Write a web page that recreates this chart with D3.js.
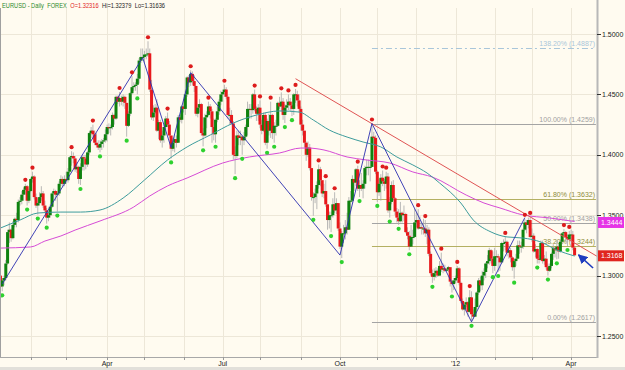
<!doctype HTML>
<html>
<head>
    <style>
        body { margin: 0; background: #fffbf0; }
        svg { display: block; font-family: "Liberation Sans", Arial, sans-serif; }
    </style>
    <script src="https://d3js.org/d3.v7.min.js"></script>
</head>
<body>
<div id="chart"></div>
<script>

    // daily EURUSD bars, one row per trading day: [high, low, close]
    // (forex has no gaps, so each bar opens at the previous close)
    var firstOpen = 1.3380;
    var jan11 = [[1.3430,1.3300,1.3360],[1.3400,1.3280,1.3300],[1.3310,1.3130,1.3150],[1.3160,1.2990,1.3000],[1.3030,1.2870,1.2910],
        [1.2980,1.2870,1.2960],[1.3000,1.2920,1.2980],[1.3130,1.2960,1.3100],[1.3380,1.3090,1.3360],[1.3440,1.3270,1.3380],
        [1.3390,1.3280,1.3310],[1.3450,1.3300,1.3420],[1.3480,1.3400,1.3470],[1.3520,1.3400,1.3460],[1.3630,1.3440,1.3610],
        [1.3650,1.3580,1.3620],[1.3700,1.3590,1.3670],[1.3730,1.3620,1.3710],[1.3760,1.3670,1.3740],[1.3750,1.3580,1.3620],
        [1.3720,1.3600,1.3700]];
    var feb11 = [[1.3810,1.3690,1.3800],[1.3860,1.3770,1.3820],[1.3830,1.3630,1.3650],[1.3680,1.3560,1.3580],
        [1.3640,1.3505,1.3600],[1.3690,1.3580,1.3650],[1.3740,1.3620,1.3680],[1.3700,1.3560,1.3580],[1.3620,1.3520,1.3540],
        [1.3560,1.3430,1.3480],[1.3530,1.3450,1.3500],[1.3590,1.3480,1.3570],[1.3690,1.3560,1.3680],[1.3720,1.3620,1.3700],
        [1.3710,1.3620,1.3670],[1.3700,1.3530,1.3680],[1.3780,1.3660,1.3760],[1.3830,1.3740,1.3800],[1.3820,1.3730,1.3760],
        [1.3830,1.3740,1.3800]];
    var mar11 = [[1.3860,1.3760,1.3790],[1.3890,1.3770,1.3860],[1.3990,1.3850,1.3980],[1.4030,1.3910,1.3990],
        [1.4020,1.3930,1.3970],[1.3990,1.3860,1.3880],[1.3940,1.3850,1.3900],[1.3910,1.3760,1.3800],[1.3930,1.3750,1.3900],
        [1.4000,1.3870,1.3980],[1.4000,1.3870,1.3970],[1.4000,1.3880,1.3920],[1.4030,1.3900,1.4020],[1.4190,1.4000,1.4180],
        [1.4230,1.4140,1.4200],[1.4250,1.4130,1.4170],[1.4200,1.4080,1.4100],[1.4180,1.4060,1.4080],[1.4120,1.4040,1.4060],
        [1.4120,1.4020,1.4090],[1.4130,1.4040,1.4110],[1.4140,1.4060,1.4120],[1.4210,1.4100,1.4170]];
    var apr11 = [[1.4250,1.4110,1.4230],[1.4260,1.4180,1.4220],[1.4250,1.4160,1.4230],[1.4350,1.4210,1.4330],
        [1.4340,1.4250,1.4300],[1.4490,1.4290,1.4480],[1.4490,1.4420,1.4440],[1.4520,1.4400,1.4470],[1.4490,1.4410,1.4440],
        [1.4500,1.4400,1.4480],[1.4490,1.4380,1.4430],[1.4430,1.4150,1.4240],[1.4360,1.4230,1.4340],[1.4520,1.4320,1.4510],
        [1.4650,1.4500,1.4560],[1.4600,1.4530,1.4570],[1.4600,1.4530,1.4580],[1.4670,1.4500,1.4630],[1.4800,1.4590,1.4780],
        [1.4880,1.4760,1.4810],[1.4880,1.4780,1.4810]];
    var may11 = [[1.4860,1.4760,1.4830],[1.4880,1.4790,1.4830],[1.4940,1.4810,1.4840],[1.4880,1.4520,1.4540],
        [1.4620,1.4290,1.4310],[1.4410,1.4280,1.4350],[1.4420,1.4340,1.4390],[1.4460,1.4190,1.4200],[1.4290,1.4130,1.4270],
        [1.4290,1.4100,1.4120],[1.4200,1.4060,1.4160],[1.4250,1.4100,1.4230],[1.4320,1.4200,1.4300],[1.4350,1.4230,1.4250],
        [1.4280,1.4140,1.4160],[1.4120,1.3970,1.4050],[1.4140,1.4030,1.4100],[1.4170,1.4020,1.4130],[1.4160,1.4060,1.4100],
        [1.4330,1.4100,1.4310],[1.4330,1.4270,1.4290],[1.4410,1.4260,1.4400]];
    var jun11 = [[1.4460,1.4350,1.4380],[1.4530,1.4330,1.4500],[1.4650,1.4480,1.4640],[1.4660,1.4560,1.4600],
        [1.4700,1.4570,1.4670],[1.4690,1.4580,1.4610],[1.4660,1.4520,1.4570],[1.4570,1.4320,1.4340],[1.4420,1.4310,1.4390],
        [1.4460,1.4350,1.4420],[1.4430,1.4160,1.4180],[1.4220,1.4070,1.4160],[1.4340,1.4150,1.4310],[1.4360,1.4220,1.4330],
        [1.4440,1.4320,1.4400],[1.4420,1.4300,1.4360],[1.4380,1.4100,1.4230],[1.4300,1.4120,1.4170],[1.4300,1.4100,1.4290],
        [1.4400,1.4270,1.4360],[1.4460,1.4330,1.4440],[1.4530,1.4410,1.4500]];
    var jul11 = [[1.4540,1.4440,1.4520],[1.4580,1.4480,1.4540],[1.4560,1.4460,1.4480],[1.4490,1.4300,1.4330],
        [1.4390,1.4250,1.4330],[1.4370,1.4250,1.4260],[1.4280,1.3960,1.4000],[1.4070,1.3840,1.3990],[1.4200,1.3970,1.4160],
        [1.4200,1.4080,1.4140],[1.4200,1.4080,1.4150],[1.4160,1.4000,1.4120],[1.4190,1.4080,1.4150],[1.4250,1.4120,1.4230],
        [1.4440,1.4160,1.4380],[1.4420,1.4300,1.4380],[1.4420,1.4300,1.4370],[1.4510,1.4340,1.4500],[1.4540,1.4360,1.4380],
        [1.4400,1.4280,1.4340],[1.4420,1.4280,1.4390]];
    var aug11 = [[1.4450,1.4220,1.4250],[1.4290,1.4170,1.4200],[1.4350,1.4190,1.4330],[1.4350,1.4080,1.4100],
        [1.4300,1.4050,1.4280],[1.4340,1.4160,1.4200],[1.4440,1.4140,1.4330],[1.4340,1.4130,1.4180],[1.4270,1.4100,1.4240],
        [1.4290,1.4160,1.4240],[1.4440,1.4230,1.4430],[1.4480,1.4380,1.4400],[1.4517,1.4360,1.4440],[1.4470,1.4290,1.4330],
        [1.4420,1.4263,1.4390],[1.4460,1.4350,1.4410],[1.4500,1.4370,1.4440],[1.4470,1.4360,1.4410],[1.4440,1.4320,1.4380],
        [1.4510,1.4330,1.4500],[1.4545,1.4430,1.4500],[1.4530,1.4400,1.4450],[1.4500,1.4350,1.4380]];
    var sep11 = [[1.4400,1.4200,1.4250],[1.4290,1.4160,1.4200],[1.4190,1.4060,1.4100],[1.4110,1.3950,1.4000],
        [1.4110,1.3980,1.4060],[1.4090,1.3870,1.3890],[1.3890,1.3620,1.3650],[1.3690,1.3495,1.3650],[1.3720,1.3600,1.3680],
        [1.3780,1.3550,1.3750],[1.3920,1.3720,1.3880],[1.3900,1.3740,1.3790],[1.3760,1.3650,1.3680],[1.3760,1.3640,1.3700],
        [1.3790,1.3570,1.3590],[1.3590,1.3380,1.3460],[1.3530,1.3390,1.3500],[1.3530,1.3360,1.3500],[1.3640,1.3480,1.3590],
        [1.3690,1.3520,1.3540],[1.3640,1.3510,1.3600],[1.3600,1.3370,1.3390]];
    var oct11 = [[1.3440,1.3220,1.3240],[1.3370,1.3145,1.3350],[1.3420,1.3270,1.3350],[1.3460,1.3300,1.3400],
        [1.3520,1.3340,1.3380],[1.3650,1.3380,1.3620],[1.3700,1.3530,1.3620],[1.3830,1.3600,1.3800],[1.3800,1.3700,1.3770],
        [1.3890,1.3740,1.3880],[1.3910,1.3700,1.3720],[1.3790,1.3650,1.3750],[1.3850,1.3700,1.3720],[1.3790,1.3640,1.3760],
        [1.3910,1.3720,1.3890],[1.3960,1.3830,1.3900],[1.3960,1.3830,1.3900],[1.3950,1.3780,1.3900],[1.4259,1.3900,1.4150],
        [1.4190,1.4090,1.4140],[1.4160,1.3840,1.3860]];
    var nov11 = [[1.3870,1.3610,1.3690],[1.3800,1.3660,1.3760],[1.3840,1.3620,1.3810],[1.3870,1.3740,1.3780],
        [1.3800,1.3700,1.3760],[1.3860,1.3720,1.3820],[1.3850,1.3520,1.3540],[1.3650,1.3480,1.3610],[1.3780,1.3590,1.3750],
        [1.3790,1.3620,1.3640],[1.3650,1.3500,1.3530],[1.3560,1.3440,1.3480],[1.3550,1.3420,1.3450],[1.3610,1.3440,1.3520],
        [1.3530,1.3440,1.3500],[1.3580,1.3450,1.3510],[1.3520,1.3350,1.3360],[1.3400,1.3300,1.3330],[1.3370,1.3210,1.3240],
        [1.3420,1.3290,1.3320],[1.3380,1.3260,1.3320],[1.3550,1.3310,1.3440]];
    var dec11 = [[1.3520,1.3400,1.3460],[1.3550,1.3380,1.3390],[1.3490,1.3390,1.3400],[1.3430,1.3340,1.3390],
        [1.3470,1.3340,1.3390],[1.3460,1.3320,1.3350],[1.3420,1.3260,1.3380],[1.3400,1.3160,1.3180],[1.3200,1.3000,1.3020],
        [1.3050,1.2940,1.2990],[1.3060,1.2960,1.3020],[1.3070,1.2980,1.3040],[1.3060,1.2990,1.3000],[1.3120,1.3000,1.3080],
        [1.3190,1.3030,1.3050],[1.3100,1.3020,1.3060],[1.3090,1.3030,1.3040],[1.3060,1.3030,1.3050],[1.3080,1.3030,1.3070],
        [1.3060,1.2910,1.2950],[1.2960,1.2860,1.2930],[1.2980,1.2880,1.2960]];
    var jan12 = [[1.3000,1.2940,1.2980],[1.3080,1.2940,1.3060],[1.3070,1.2920,1.2940],[1.2950,1.2770,1.2790],
        [1.2810,1.2710,1.2720],[1.2780,1.2670,1.2760],[1.2820,1.2740,1.2780],[1.2790,1.2660,1.2700],[1.2880,1.2690,1.2820],
        [1.2870,1.2617,1.2680],[1.2720,1.2640,1.2660],[1.2810,1.2660,1.2740],[1.2870,1.2720,1.2860],[1.2980,1.2840,1.2960],
        [1.2990,1.2870,1.2920],[1.3040,1.2880,1.3000],[1.3060,1.2960,1.3030],[1.3110,1.2980,1.3100],[1.3170,1.3060,1.3120],
        [1.3230,1.3090,1.3210],[1.3220,1.3100,1.3140],[1.3200,1.3020,1.3080]];
    var feb12 = [[1.3230,1.3040,1.3160],[1.3210,1.3080,1.3160],[1.3180,1.3030,1.3150],[1.3150,1.3040,1.3110],
        [1.3280,1.3100,1.3270],[1.3300,1.3200,1.3270],[1.3320,1.3210,1.3280],[1.3290,1.3160,1.3190],[1.3260,1.3140,1.3210],
        [1.3230,1.3110,1.3150],[1.3160,1.3040,1.3070],[1.3140,1.2975,1.3120],[1.3180,1.3080,1.3140],[1.3290,1.3140,1.3250],
        [1.3290,1.3180,1.3240],[1.3280,1.3190,1.3240],[1.3390,1.3220,1.3380],[1.3470,1.3370,1.3440],[1.3460,1.3350,1.3420],
        [1.3480,1.3390,1.3460],[1.3486,1.3310,1.3320]];
    var mar12 = [[1.3390,1.3280,1.3330],[1.3350,1.3190,1.3200],[1.3260,1.3150,1.3220],[1.3230,1.3100,1.3140],
        [1.3170,1.3100,1.3130],[1.3290,1.3120,1.3270],[1.3290,1.3100,1.3120],[1.3170,1.3090,1.3140],[1.3200,1.3050,1.3070],
        [1.3100,1.3000,1.3040],[1.3100,1.3030,1.3080],[1.3190,1.3060,1.3180],[1.3260,1.3130,1.3230],[1.3230,1.3150,1.3210],
        [1.3290,1.3135,1.3240],[1.3260,1.3140,1.3200],[1.3300,1.3190,1.3280],[1.3360,1.3260,1.3350],[1.3385,1.3320,1.3360],
        [1.3370,1.3280,1.3320],[1.3340,1.3245,1.3300],[1.3370,1.3280,1.3340]];
    var apr12 = [[1.3380,1.3290,1.3340],[1.3370,1.3210,1.32316],[1.32379,1.31636,1.3168]];

    // swing markers (trading-day index of the bar)
    var swingHighs = [18,22,44,56,71,78,87,98,111,121,130,147,150,156,162,166,170,183,187,192,205,213,219,221,239,243,252,261,268,288,299,302,321,324];
    var swingLows = [5,19,25,30,36,49,60,75,81,100,118,125,136,140,154,158,164,168,180,190,196,206,216,223,228,234,247,258,269,281,284,293,306,312,317,323];

    // moving averages: [day index, price]
    var tealMA = [[4,1.3394],[15,1.3460],[25,1.3518],[38,1.3526],[49,1.3526],[60,1.3543],[73,1.3642],[85,1.3791],
        [98,1.3957],[109,1.4065],[122,1.4164],[135,1.4263],[148,1.4329],[161,1.4363],[172,1.4354],[180,1.4288],
        [189,1.4205],[199,1.4147],[208,1.4106],[218,1.4065],[227,1.3982],[236,1.3916],[244,1.3849],[251,1.3767],
        [263,1.3601],[270,1.3460],[280,1.3361],[289,1.3320],[298,1.3311],[308,1.3278],[317,1.3212],[327,1.3162]];
    var magentaMA = [[4,1.3228],[21,1.3237],[29,1.3286],[38,1.3328],[46,1.3377],[60,1.3452],[79,1.3568],[88,1.3659],
        [98,1.3742],[109,1.3808],[129,1.3932],[144,1.3982],[161,1.4015],[173,1.4056],[177,1.4056],[186,1.4040],
        [199,1.3982],[210,1.3957],[223,1.3932],[236,1.3858],[247,1.3816],[266,1.3667],[276,1.3601],[285,1.3560],
        [298,1.3502],[313,1.3477],[327,1.3448]];

    var zigzag = [[5,1.2930],[84,1.4805],[100,1.4060],[111,1.4680],[195,1.3170],[213,1.4259],[269,1.2617],[299,1.3480]];
    var trendLine = [[170,1.4630],[339.6,1.3160]];

    var fibPct = ["138.20%","100.00%","61.80%","50.00%","38.20%","0.00%"];
    var fibPrice = [1.4887,1.4259,1.3632,1.3438,1.3244,1.2617];
    var fibColor = ["#a9c6da","#a4a4a4","#b4b062","#a4a4a4","#b4b062","#a4a4a4"];
    var fibText = ["#a9c6da","#a0a0a0","#8e8c3c","#a0a0a0","#8e8c3c","#a0a0a0"];
    var fibStart = 213;

    var yTicks = [1.25,1.30,1.35,1.40,1.45,1.50];
    var maLast = 1.3444, lastClose = 1.3168;
    var arrowFrom = [337.4,1.3063], arrowTo = [329.2,1.3171];

    // setup
    var canvasWidth = 625, canvasHeight = 370;
    var plotL = 1, plotR = 597, plotT = 8, plotB = 357;

    var svg = d3.select("#chart").append("svg")
        .attr("width", canvasWidth)
        .attr("height", canvasHeight);

    svg.append("rect").attr("width", canvasWidth).attr("height", canvasHeight).attr("fill", "#fffbf0");

    var bars = [].concat(jan11, feb11, mar11, apr11, may11, jun11, jul11, aug11, sep11, oct11, nov11, dec11, jan12, feb12, mar12, apr12);
    var days = d3.timeDay.range(new Date(2011, 0, 3), new Date(2012, 3, 5))
        .filter(function(d){ return d.getDay() > 0 && d.getDay() < 6; });

    var data = bars.map(function(b, i){
        return {i: i, date: days[i], o: i ? bars[i-1][2] : firstOpen, h: b[0], l: b[1], c: b[2]};
    });

    var x = d3.scaleLinear().domain([4.3, 339.6]).range([plotL, plotR]);
    var y = d3.scaleLinear().domain([1.23262, 1.52815]).range([plotB, 0]);

    svg.append("clipPath").attr("id", "plotclip").append("rect")
        .attr("x", plotL).attr("y", plotT).attr("width", plotR - plotL).attr("height", plotB - plotT);

    // month boundaries
    var monthStarts = days.map(function(d, i){ return {i: i, date: d}; })
        .filter(function(d){ return d.i > 0 && d.date.getMonth() != days[d.i-1].getMonth(); });

    var grid = svg.append("g");
    grid.selectAll("line.v").data(monthStarts).join("line")
        .attr("x1", function(d){ return Math.round(x(d.i)) + 0.5; })
        .attr("x2", function(d){ return Math.round(x(d.i)) + 0.5; })
        .attr("y1", plotT).attr("y2", plotB)
        .attr("stroke", "#ede7d8");
    grid.selectAll("line.h").data(yTicks).join("line")
        .attr("x1", plotL).attr("x2", plotR)
        .attr("y1", function(d){ return Math.round(y(d)) + 0.5; })
        .attr("y2", function(d){ return Math.round(y(d)) + 0.5; })
        .attr("stroke", "#ede7d8");

    var plot = svg.append("g").attr("clip-path", "url(#plotclip)");

    // fibonacci levels
    var fibs = fibPrice.map(function(p, k){ return {p: p, pct: fibPct[k], k: k}; });
    plot.selectAll("line.fib").data(fibs).join("line")
        .attr("x1", x(fibStart)).attr("x2", x(339))
        .attr("y1", function(d){ return Math.round(y(d.p)) + 0.5; })
        .attr("y2", function(d){ return Math.round(y(d.p)) + 0.5; })
        .attr("stroke", function(d){ return fibColor[d.k]; })
        .attr("stroke-width", 1)
        .attr("stroke-dasharray", function(d){ return d.k == 0 ? "6,3,2,3" : null; });
    plot.selectAll("text.fib").data(fibs).join("text")
        .attr("x", 595)
        .attr("y", function(d){ return Math.round(y(d.p)) - 2; })
        .attr("text-anchor", "end")
        .attr("font-size", "7px")
        .attr("fill", function(d){ return fibText[d.k]; })
        .text(function(d){ return d.pct + " (" + d.p.toFixed(4) + ")"; });

    // candles
    var candles = plot.append("g");
    candles.selectAll("line.wick").data(data).join("line")
        .attr("x1", function(d){ return x(d.i); })
        .attr("x2", function(d){ return x(d.i); })
        .attr("y1", function(d){ return y(d.h); })
        .attr("y2", function(d){ return y(d.l); })
        .attr("stroke", "#a8a8a8")
        .attr("stroke-width", 0.8);
    candles.selectAll("rect.body").data(data).join("rect")
        .attr("x", function(d){ return x(d.i) - 1.5; })
        .attr("width", 3)
        .attr("y", function(d){ return y(Math.max(d.o, d.c)); })
        .attr("height", function(d){ return Math.max(1, Math.abs(y(d.o) - y(d.c))); })
        .attr("fill", function(d){ return d.c >= d.o ? "#0f820f" : "#e8191c"; });

    // moving averages
    var line = d3.line()
        .x(function(d){ return x(d[0]); })
        .y(function(d){ return y(d[1]); })
        .curve(d3.curveMonotoneX);
    plot.append("path").datum(magentaMA).attr("d", line)
        .attr("fill", "none").attr("stroke", "#d64bd6").attr("stroke-width", 1);
    plot.append("path").datum(tealMA).attr("d", line)
        .attr("fill", "none").attr("stroke", "#3d9c9c").attr("stroke-width", 1);

    // trend line and zigzag
    var straight = d3.line().x(function(d){ return x(d[0]); }).y(function(d){ return y(d[1]); });
    plot.append("path").datum(trendLine).attr("d", straight)
        .attr("fill", "none").attr("stroke", "#e05454").attr("stroke-width", 1);
    plot.append("path").datum(zigzag).attr("d", straight)
        .attr("fill", "none").attr("stroke", "#2b2fb0").attr("stroke-width", 0.9);

    // swing dots
    plot.selectAll("circle.hi").data(swingHighs).join("circle")
        .attr("cx", function(i){ return x(i); })
        .attr("cy", function(i){ return y(data[i].h) - 4; })
        .attr("r", 2.1)
        .attr("fill", "#dd1c1c");
    plot.selectAll("circle.lo").data(swingLows).join("circle")
        .attr("cx", function(i){ return x(i); })
        .attr("cy", function(i){ return y(data[i].l) + 4; })
        .attr("r", 2.1)
        .attr("fill", "#2ed12e");

    // frame
    svg.append("line").attr("x1", 0.5).attr("x2", 0.5).attr("y1", plotT).attr("y2", plotB)
        .attr("stroke", "#a0a0a0");
    svg.append("line").attr("x1", 0).attr("x2", plotR).attr("y1", plotB + 0.5).attr("y2", plotB + 0.5)
        .attr("stroke", "#a8a8a8");
    svg.append("line").attr("x1", plotR + 0.5).attr("x2", plotR + 0.5).attr("y1", 0).attr("y2", plotB + 1)
        .attr("stroke", "#b8b8b8").attr("stroke-width", 2);
    svg.append("rect").attr("x", 0).attr("y", 367).attr("width", canvasWidth).attr("height", 3).attr("fill", "#e2e0da");

    // price axis
    var yAxis = svg.append("g");
    yAxis.selectAll("line").data(yTicks).join("line")
        .attr("x1", plotR).attr("x2", plotR + 4)
        .attr("y1", function(d){ return Math.round(y(d)) + 0.5; })
        .attr("y2", function(d){ return Math.round(y(d)) + 0.5; })
        .attr("stroke", "#333");
    yAxis.selectAll("text").data(yTicks).join("text")
        .attr("x", plotR + 5)
        .attr("y", function(d){ return y(d) + 2.5; })
        .attr("font-size", "7px")
        .attr("fill", "#222")
        .text(function(d){ return d.toFixed(4); });

    // price badges
    var badges = [{v: maLast, fill: "#e633e6"}, {v: lastClose, fill: "#e0251f"}];
    svg.selectAll("rect.badge").data(badges).join("rect")
        .attr("x", plotR + 1).attr("width", 26)
        .attr("y", function(d){ return y(d.v) - 5; })
        .attr("height", 11)
        .attr("fill", function(d){ return d.fill; });
    svg.selectAll("text.badge").data(badges).join("text")
        .attr("x", plotR + 4)
        .attr("y", function(d){ return y(d.v) + 3; })
        .attr("font-size", "7px")
        .attr("fill", "#ffffff")
        .text(function(d){ return d.v.toFixed(4); });

    // time axis
    var labelFormat = function(d){
        if (d.getMonth() == 0) return "'" + d3.timeFormat("%y")(d);
        if (d.getMonth() % 3 == 0) return d3.timeFormat("%b")(d);
        return "";
    };
    var xAxis = svg.append("g");
    xAxis.selectAll("line").data(monthStarts).join("line")
        .attr("x1", function(d){ return Math.round(x(d.i)) + 0.5; })
        .attr("x2", function(d){ return Math.round(x(d.i)) + 0.5; })
        .attr("y1", plotB).attr("y2", plotB + 3)
        .attr("stroke", "#999");
    xAxis.selectAll("text").data(monthStarts).join("text")
        .attr("x", function(d){ return x(d.i); })
        .attr("y", 366)
        .attr("text-anchor", "middle")
        .attr("font-size", "7px")
        .attr("fill", "#222")
        .text(function(d){ return labelFormat(d.date); });

    // arrow pointing at the last bar
    svg.append("defs").append("marker")
        .attr("id", "head").attr("viewBox", "0 0 10 10").attr("refX", 9).attr("refY", 5)
        .attr("markerWidth", 6).attr("markerHeight", 6).attr("orient", "auto")
        .append("path").attr("d", "M0,0L10,5L0,10z").attr("fill", "#1e3cbe");
    svg.append("line")
        .attr("x1", x(arrowFrom[0])).attr("y1", y(arrowFrom[1]))
        .attr("x2", x(arrowTo[0])).attr("y2", y(arrowTo[1]))
        .attr("stroke", "#1e3cbe").attr("stroke-width", 1.6)
        .attr("marker-end", "url(#head)");

    // title: pieces laid out one after another, then squeezed horizontally
    var titleParts = [
        {t: "EURUSD - Daily", c: "#2b8a2b"},
        {t: "FOREX", c: "#2b8a2b"},
        {t: "O=1.32316", c: "#e02424"},
        {t: "Hi=1.32379", c: "#222"},
        {t: "Lo=1.31636", c: "#222"}
    ];
    var titleG = svg.append("g").attr("transform", "translate(2,8) scale(0.76,1)");
    var cursor = 0;
    titleParts.forEach(function(p){
        var t = titleG.append("text")
            .attr("x", cursor)
            .attr("y", 0)
            .attr("font-size", "7.5px")
            .attr("fill", p.c)
            .text(p.t);
        cursor += t.node().getComputedTextLength() + 4.5;
    });

</script>
</body>
</html>
